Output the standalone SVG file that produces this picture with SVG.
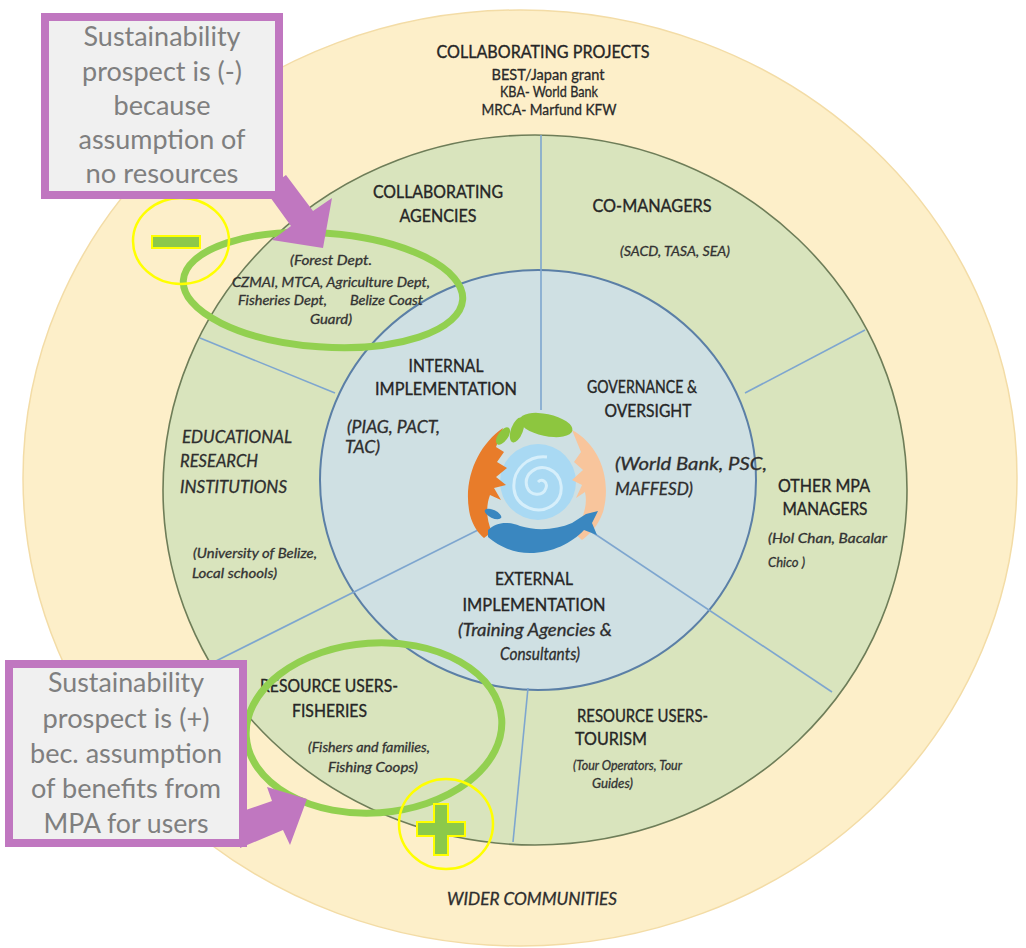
<svg xmlns="http://www.w3.org/2000/svg" width="1026" height="948" viewBox="0 0 1026 948">
  <style>
    .h { font-family: Lato, "Liberation Sans", sans-serif; font-size: 17px; fill: #262626; stroke: #262626; stroke-width: 0.35; }
    .hs { font-family: Lato, "Liberation Sans", sans-serif; font-size: 15px; fill: #2a2a2a; stroke: #2a2a2a; stroke-width: 0.3; }
    .it { font-family: Lato, "Liberation Sans", sans-serif; font-size: 17px; font-style: italic; fill: #2e2e2e; stroke: #2e2e2e; stroke-width: 0.3; }
    .sm { font-family: Lato, "Liberation Sans", sans-serif; font-size: 13px; font-style: italic; fill: #333; stroke: #333; stroke-width: 0.3; }
    .call { font-family: Lato, "Liberation Sans", sans-serif; font-size: 26px; fill: #7f7f7f; text-anchor: middle; }
    .mid { text-anchor: middle; }
    .div { stroke: #7ea6cf; stroke-width: 1.6; fill: none; }
    .hl { fill: none; stroke: #92d050; stroke-width: 7; }
    .ring { fill: none; stroke: #ffff00; stroke-width: 2.5; }
    .sign { fill: #8cc94a; stroke: #ffff00; stroke-width: 2; }
    .box { fill: #f0f0f0; stroke: #c077c0; stroke-width: 8; }
    .arrow { fill: #c077c0; }
  </style>

  <rect width="1026" height="948" fill="#ffffff"/>

  <!-- concentric rings -->
  <g id="wider-communities">
    <ellipse cx="520" cy="478" rx="497" ry="468" fill="#fdefc9" stroke="#f3dca6" stroke-width="1.5"/>
  </g>
  <g id="stakeholder-ring">
    <ellipse cx="535" cy="490" rx="372" ry="355" fill="#d9e4bd" stroke="#6e7d58" stroke-width="1.6"/>
  </g>
  <g id="core-ring">
    <ellipse cx="538" cy="480" rx="218" ry="210" fill="#cfe0e3" stroke="#5b7fa6" stroke-width="2"/>
  </g>

  <!-- sector dividers -->
  <g id="connectors">
    <line class="div" x1="541" y1="135" x2="541" y2="410"/>
    <line class="div" x1="200" y1="338" x2="335" y2="393"/>
    <line class="div" x1="865" y1="330" x2="745" y2="393"/>
    <line class="div" x1="482" y1="528" x2="210" y2="664"/>
    <line class="div" x1="592" y1="532" x2="832" y2="692"/>
    <line class="div" x1="528" y1="688" x2="513" y2="842"/>
  </g>

  <!-- emblem: hands, leaves, fish and water spiral -->
  <g id="emblem">
    <circle cx="538" cy="482" r="38" fill="#a9d9f3"/>
    <path d="M538 482 c4 -4 10 0 8 6 c-3 9 -16 8 -19 -1 c-4 -13 10 -23 22 -18 c15 6 16 27 4 36 c-15 11 -37 2 -39 -16 c-2 -20 15 -34 33 -32" fill="none" stroke="#d6effb" stroke-width="3"/>
    <path d="M503 428 C478 445 462 480 470 515 C473 526 478 533 484 538 L492 532 C486 520 486 505 490 495 L501 500 L494 488 L506 485 L496 477 L507 468 L497 462 L504 452 L496 447 Z" fill="#e87c2a"/>
    <path d="M572 430 C600 445 612 480 603 512 C598 526 590 534 582 540 L574 533 C583 520 588 505 585 492 L576 498 L582 485 L572 480 L583 470 L574 462 L581 452 Z" fill="#f8c59c"/>
    <ellipse cx="546" cy="425" rx="27" ry="11" transform="rotate(12 546 425)" fill="#8dc63f"/>
    <ellipse cx="517" cy="430" rx="13" ry="6" transform="rotate(-70 517 430)" fill="#8dc63f"/>
    <ellipse cx="503" cy="436" rx="10" ry="5" transform="rotate(-55 503 436)" fill="#8dc63f"/>
    <path d="M488 530 C496 522 508 521 520 526 C536 531 556 530 572 523 L586 514 L598 511 L592 523 L597 535 L584 530 C572 543 552 553 530 553 C512 553 497 545 488 537 Z" fill="#3a87c0"/>
    <ellipse cx="493" cy="514" rx="9" ry="4" transform="rotate(25 493 514)" fill="#3a87c0"/>
  </g>

  <!-- outer ring label -->
  <g id="collaborating-projects">
    <text class="h mid" x="543" y="58" textLength="213" lengthAdjust="spacingAndGlyphs">COLLABORATING PROJECTS</text>
    <text class="hs mid" x="548" y="80" textLength="113" lengthAdjust="spacingAndGlyphs">BEST/Japan grant</text>
    <text class="hs mid" x="549" y="97" textLength="98" lengthAdjust="spacingAndGlyphs">KBA- World Bank</text>
    <text class="hs mid" x="549" y="115" textLength="135" lengthAdjust="spacingAndGlyphs">MRCA- Marfund KFW</text>
  </g>

  <g id="collaborating-agencies">
    <text class="h mid" x="438" y="198" textLength="130" lengthAdjust="spacingAndGlyphs">COLLABORATING</text>
    <text class="h mid" x="438" y="222" textLength="77" lengthAdjust="spacingAndGlyphs">AGENCIES</text>
    <text class="sm mid" x="331" y="265" textLength="82" lengthAdjust="spacingAndGlyphs">(Forest Dept.</text>
    <text class="sm mid" x="331" y="287" textLength="198" lengthAdjust="spacingAndGlyphs">CZMAI, MTCA, Agriculture Dept,</text>
    <text class="sm" x="238" y="305" textLength="89" lengthAdjust="spacingAndGlyphs">Fisheries Dept,</text>
    <text class="sm" x="350" y="305" textLength="73" lengthAdjust="spacingAndGlyphs">Belize Coast</text>
    <text class="sm mid" x="331" y="324" textLength="42" lengthAdjust="spacingAndGlyphs">Guard)</text>
  </g>

  <g id="co-managers">
    <text class="h mid" x="652" y="212" textLength="119" lengthAdjust="spacingAndGlyphs">CO-MANAGERS</text>
    <text class="sm mid" x="675" y="256" textLength="110" lengthAdjust="spacingAndGlyphs">(SACD, TASA, SEA)</text>
  </g>

  <g id="internal-implementation">
    <text class="h mid" x="446" y="372" textLength="75" lengthAdjust="spacingAndGlyphs">INTERNAL</text>
    <text class="h mid" x="446" y="395" textLength="142" lengthAdjust="spacingAndGlyphs">IMPLEMENTATION</text>
    <text class="it" x="347" y="433" textLength="93" lengthAdjust="spacingAndGlyphs">(PIAG, PACT,</text>
    <text class="it" x="345" y="453" textLength="35" lengthAdjust="spacingAndGlyphs">TAC)</text>
  </g>

  <g id="governance-oversight">
    <text class="h mid" x="642" y="393" textLength="110" lengthAdjust="spacingAndGlyphs">GOVERNANCE &amp;</text>
    <text class="h mid" x="648" y="417" textLength="87" lengthAdjust="spacingAndGlyphs">OVERSIGHT</text>
    <text class="it" x="615" y="470" textLength="152" lengthAdjust="spacingAndGlyphs">(World Bank, PSC,</text>
    <text class="it" x="615" y="495" textLength="78" lengthAdjust="spacingAndGlyphs">MAFFESD)</text>
  </g>

  <g id="educational-research">
    <text class="it" x="182" y="443" textLength="110" lengthAdjust="spacingAndGlyphs">EDUCATIONAL</text>
    <text class="it" x="180" y="467" textLength="78" lengthAdjust="spacingAndGlyphs">RESEARCH</text>
    <text class="it" x="180" y="493" textLength="107" lengthAdjust="spacingAndGlyphs">INSTITUTIONS</text>
    <text class="sm" x="193" y="558" textLength="124" lengthAdjust="spacingAndGlyphs">(University of Belize,</text>
    <text class="sm" x="192" y="578" textLength="85" lengthAdjust="spacingAndGlyphs">Local schools)</text>
  </g>

  <g id="other-mpa-managers">
    <text class="h mid" x="824" y="492" textLength="92" lengthAdjust="spacingAndGlyphs">OTHER MPA</text>
    <text class="h mid" x="825" y="515" textLength="85" lengthAdjust="spacingAndGlyphs">MANAGERS</text>
    <text class="sm" x="768" y="543" textLength="119" lengthAdjust="spacingAndGlyphs">(Hol Chan, Bacalar</text>
    <text class="sm" x="768" y="567" textLength="37" lengthAdjust="spacingAndGlyphs">Chico )</text>
  </g>

  <g id="external-implementation">
    <text class="h mid" x="534" y="585" textLength="78" lengthAdjust="spacingAndGlyphs">EXTERNAL</text>
    <text class="h mid" x="534" y="611" textLength="143" lengthAdjust="spacingAndGlyphs">IMPLEMENTATION</text>
    <text class="it mid" x="535" y="636" textLength="154" lengthAdjust="spacingAndGlyphs">(Training Agencies &amp;</text>
    <text class="it mid" x="540" y="660" textLength="80" lengthAdjust="spacingAndGlyphs">Consultants)</text>
  </g>

  <g id="resource-users-fisheries">
    <text class="h" x="260" y="692" textLength="138" lengthAdjust="spacingAndGlyphs">RESOURCE USERS-</text>
    <text class="h" x="292" y="717" textLength="75" lengthAdjust="spacingAndGlyphs">FISHERIES</text>
    <text class="sm" x="308" y="752" textLength="122" lengthAdjust="spacingAndGlyphs">(Fishers and families,</text>
    <text class="sm" x="328" y="772" textLength="90" lengthAdjust="spacingAndGlyphs">Fishing Coops)</text>
  </g>

  <g id="resource-users-tourism">
    <text class="h" x="577" y="722" textLength="131" lengthAdjust="spacingAndGlyphs">RESOURCE USERS-</text>
    <text class="h" x="575" y="745" textLength="72" lengthAdjust="spacingAndGlyphs">TOURISM</text>
    <text class="sm" x="573" y="770" textLength="109" lengthAdjust="spacingAndGlyphs">(Tour Operators, Tour</text>
    <text class="sm" x="592" y="788" textLength="41" lengthAdjust="spacingAndGlyphs">Guides)</text>
  </g>

  <g id="wider-communities-label">
    <text class="it" x="447" y="905" textLength="170" lengthAdjust="spacingAndGlyphs">WIDER COMMUNITIES</text>
  </g>

  <!-- highlight marks -->
  <g id="highlight-agencies">
    <ellipse class="hl" cx="323" cy="290" rx="140" ry="57" transform="rotate(4 323 290)"/>
  </g>
  <g id="highlight-fisheries">
    <ellipse class="hl" cx="374" cy="728" rx="128" ry="85" transform="rotate(-4 374 728)"/>
  </g>
  <g id="minus-mark">
    <ellipse class="ring" cx="181" cy="241" rx="48" ry="43"/>
    <rect class="sign" x="152" y="236" width="48" height="12"/>
  </g>
  <g id="plus-mark">
    <ellipse class="ring" cx="446" cy="824" rx="47" ry="45"/>
    <path class="sign" d="M434 804 H448 V822 H465 V836 H448 V855 H434 V836 H417 V822 H434 Z"/>
  </g>

  <!-- callouts -->
  <g id="callout-negative">
    <polygon class="arrow" points="265,190 286,175 313,211 332,198 323,248 272,240 291,226"/>
    <rect class="box" x="45" y="17" width="234" height="178"/>
    <text class="call" x="162" y="46" textLength="157" lengthAdjust="spacingAndGlyphs">Sustainability</text>
    <text class="call" x="162" y="81" textLength="160" lengthAdjust="spacingAndGlyphs">prospect is (-)</text>
    <text class="call" x="162" y="115" textLength="97" lengthAdjust="spacingAndGlyphs">because</text>
    <text class="call" x="162" y="149" textLength="167" lengthAdjust="spacingAndGlyphs">assumption of</text>
    <text class="call" x="162" y="183" textLength="153" lengthAdjust="spacingAndGlyphs">no resources</text>
  </g>

  <g id="callout-positive">
    <polygon class="arrow" points="240,812 272,801 267,787 307,799 290,845 283,830 240,848"/>
    <rect class="box" x="9" y="664" width="234" height="179"/>
    <text class="call" x="126" y="692" textLength="156" lengthAdjust="spacingAndGlyphs">Sustainability</text>
    <text class="call" x="126" y="728" textLength="167" lengthAdjust="spacingAndGlyphs">prospect is (+)</text>
    <text class="call" x="126" y="763" textLength="192" lengthAdjust="spacingAndGlyphs">bec. assumption</text>
    <text class="call" x="126" y="798" textLength="190" lengthAdjust="spacingAndGlyphs">of benefits from</text>
    <text class="call" x="126" y="833" textLength="165" lengthAdjust="spacingAndGlyphs">MPA for users</text>
  </g>
</svg>
